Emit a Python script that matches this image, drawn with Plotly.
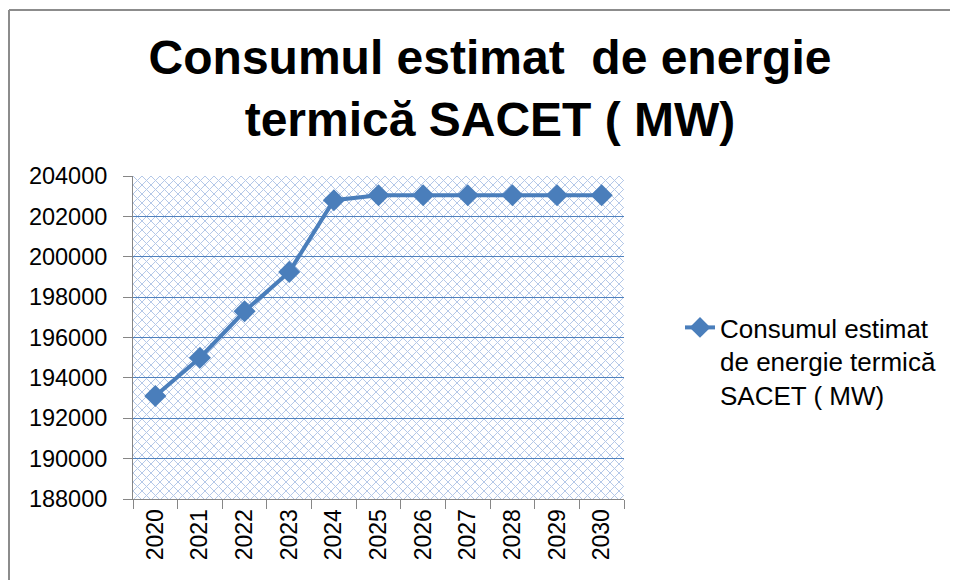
import base64
import plotly.graph_objects as go

years = ["2020", "2021", "2022", "2023", "2024", "2025", "2026", "2027", "2028", "2029", "2030"]
consum = [193100, 195000, 197300, 199250, 202800, 203050, 203050, 203050, 203050, 203050, 203050]
series_name = "Consumul estimat<br>de energie termică<br>SACET ( MW)"
title_text = "Consumul estimat  de energie<br>termică SACET ( MW)"
y_ticks = [188000, 190000, 192000, 194000, 196000, 198000, 200000, 202000, 204000]

W, H = 958, 580
OFF = 8  # page body margin offset
# plot area in page pixels: x 133..624, y 176..499
ML = 133 - OFF
MT = 176 - OFF
MR = W - (624 - OFF)
MB = H - (499 - OFF)
PW, PH = W - ML - MR, H - MT - MB

# crosshatch background pattern (SVG)
p = 9
svg = (
    f'<svg xmlns="http://www.w3.org/2000/svg" width="{PW}" height="{PH}">'
    f'<defs><pattern id="h" width="{p}" height="{p}" patternUnits="userSpaceOnUse">'
    f'<path d="M0,0 L{p},{p} M{p},0 L0,{p}" stroke="#b4c8e8" stroke-width="1"/>'
    f'</pattern></defs>'
    f'<rect width="{PW}" height="{PH}" fill="white"/>'
    f'<rect width="{PW}" height="{PH}" fill="url(#h)"/></svg>'
)
src = "data:image/svg+xml;base64," + base64.b64encode(svg.encode()).decode()

fig = go.Figure()
fig.add_trace(go.Scatter(
    x=years, y=consum, mode="lines+markers", name=series_name,
    line=dict(color="#4a7ebb", width=4),
    marker=dict(symbol="diamond", size=17, color="#4a7ebb"),
    showlegend=True,
))

font = "Arial, Liberation Sans, sans-serif"

def px_x(px):
    return (px - OFF - ML) / PW

def px_y(py):
    return (H - MB - (py - OFF)) / PH

fig.update_layout(
    width=W, height=H,
    margin=dict(l=ML, r=MR, t=MT, b=MB, autoexpand=False),
    paper_bgcolor="white",
    plot_bgcolor="rgba(0,0,0,0)",
    title=dict(text=title_text, x=(490 - OFF) / W, xanchor="center", xref="container",
               y=1 - 66 / H, yanchor="top", yref="container",
               font=dict(family=font, size=48, color="black", weight="bold")),
    font=dict(family=font, color="black"),
    xaxis=dict(type="category", range=[-0.5, len(years) - 0.5], showgrid=False,
               showline=True, linecolor="#868686",
               linewidth=1, ticks="outside", tickson="boundaries", ticklen=9,
               tickcolor="#868686", tickangle=-90, tickfont=dict(size=23),
               automargin=False),
    yaxis=dict(range=[188000, 204000], tickvals=y_ticks, showgrid=True,
               gridcolor="#4f81bd", gridwidth=1, showline=True, linecolor="#868686",
               ticks="outside", ticklen=9, tickcolor="#868686",
               tickfont=dict(size=23.5), ticklabelstandoff=11, zeroline=False,
               tickformat="d", automargin=False),
    legend=dict(x=px_x(680), y=px_y(304), xanchor="left", yanchor="top",
                font=dict(size=26), valign="top", bgcolor="rgba(0,0,0,0)"),
    images=[dict(source=src, xref="paper", yref="paper", x=0, y=1, sizex=1, sizey=1,
                 sizing="stretch", layer="below", xanchor="left", yanchor="top")],
    shapes=[
        dict(type="line", xref="paper", yref="paper", x0=px_x(9), x1=px_x(966),
             y0=px_y(10), y1=px_y(10), line=dict(color="#8c8c8c", width=2)),
        dict(type="line", xref="paper", yref="paper", x0=px_x(9), x1=px_x(9),
             y0=px_y(10), y1=px_y(590), line=dict(color="#8c8c8c", width=2)),
    ],
)

fig.write_html("out.html")
